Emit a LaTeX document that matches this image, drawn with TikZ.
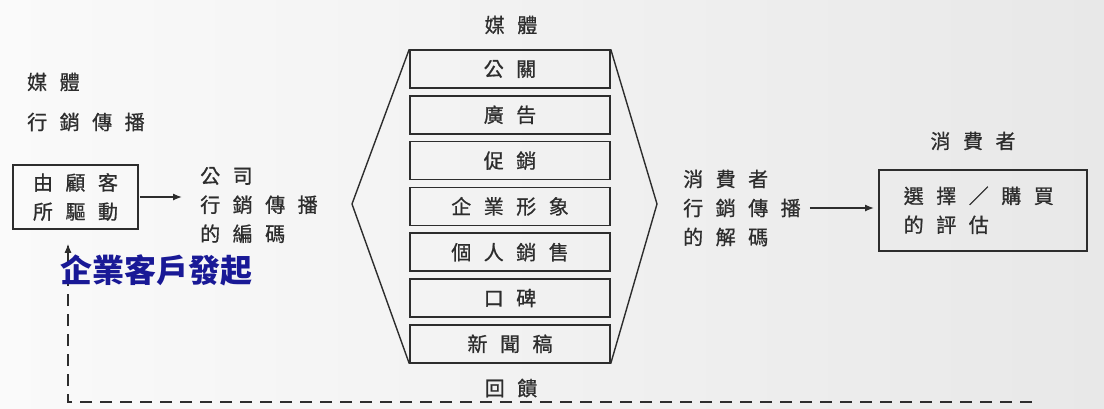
\documentclass[tikz,border=0pt]{standalone}
\usepackage{fontspec}
\usetikzlibrary{arrows.meta}
\newfontfamily\cjk[FakeBold=0.8]{Noto Sans CJK TC}
\newfontfamily\cjkblue{Noto Sans CJK TC}
\newcommand\gp{\hspace{12.5pt}}
\definecolor{ink}{RGB}{45,45,45}
\definecolor{blueink}{RGB}{25,25,150}
\definecolor{bgl}{RGB}{250,250,250}
\definecolor{bgr}{RGB}{232,232,232}
\tikzset{
  txt/.style={font=\cjk\fontsize{20}{29}\selectfont, text=ink, inner sep=0pt},
  mbox/.style={txt, draw=ink, line width=1.5pt, minimum width=200pt, minimum height=38pt},
  arr/.style={-{Latex[length=9pt,width=7pt]}, line width=1.3pt, draw=ink},
  fb/.style={draw=ink, line width=1.4pt, dash pattern=on 12pt off 8pt},
  hexline/.style={draw=ink, line width=1.4pt},
}
\begin{document}
\begin{tikzpicture}[x=1pt,y=-1pt]
\useasboundingbox (0,0) rectangle (1104,408);
\shade[left color=bgl, right color=bgr] (0,0) rectangle (1104,408);

% left labels
\node[txt, anchor=west] (lmedia) at (27,82) {媒\gp 體};
\node[txt, anchor=west] (lmc) at (27,122) {行\gp 銷\gp 傳\gp 播};

% left box
\node[txt, draw=ink, line width=1.5pt, minimum width=125pt, minimum height=64pt, align=center] (drive) at (75.5,197) {由\gp 顧\gp 客\\所\gp 驅\gp 動};

% encoding text
\node[txt, anchor=west, align=left] (encode) at (200,205) {公\gp 司\\行\gp 銷\gp 傳\gp 播\\的\gp 編\gp 碼};

% media column
\node[txt] (mtop) at (511,25) {媒\gp 體};
\node[mbox] (b1) at (510,69) {公\gp 關};
\node[mbox] (b2) at (510,114.8) {廣\gp 告};
\node[mbox] (b3) at (510,160.6) {促\gp 銷};
\node[mbox] (b4) at (510,206.4) {企\gp 業\gp 形\gp 象};
\node[mbox] (b5) at (510,252.2) {個\gp 人\gp 銷\gp 售};
\node[mbox] (b6) at (510,298) {口\gp 碑};
\node[mbox] (b7) at (510,343.8) {新\gp 聞\gp 稿};
\node[txt] (fbtxt) at (511,388) {回\gp 饋};

\coordinate (hl) at (352,204);
\coordinate (hr) at (657,204);
\draw[hexline] (b1.north west) -- (hl) -- (b7.south west);
\draw[hexline] (b1.north east) -- (hr) -- (b7.south east);

% decoding text
\node[txt, anchor=west, align=left] (decode) at (683,208) {消\gp 費\gp 者\\行\gp 銷\gp 傳\gp 播\\的\gp 解\gp 碼};

% consumer
\node[txt] (cons) at (973,141) {消\gp 費\gp 者};
\node[txt, draw=ink, line width=1.5pt, anchor=north west, minimum height=81pt, text width=158pt, inner xsep=25pt, inner ysep=0pt, align=left] (evalbox) at (878,169) {選\gp 擇\gp ／\gp 購\gp 買\\的\gp 評\gp 估};

% arrows
\draw[arr] ([xshift=1pt]drive.east) -- ([xshift=-18pt]encode.west |- drive.east);
\draw[arr] ([xshift=9pt]decode.east) -- ([xshift=-4pt]evalbox.west |- decode.east);

% feedback
\coordinate (fbL) at (68,402);
\coordinate (fbR) at (1032,402);
\draw[fb] (fbR) -- (fbL) -- ([yshift=-16pt]drive.south -| fbL);
\draw[arr, line width=1.3pt] ([yshift=-28pt]drive.south -| fbL) -- ([yshift=-14pt]drive.south -| fbL);

% blue label
\node[font=\cjkblue\bfseries\fontsize{32}{36}\selectfont, text=blueink, inner sep=0pt, anchor=west] (client) at (60,270) {企業客戶發起};
\end{tikzpicture}
\end{document}
